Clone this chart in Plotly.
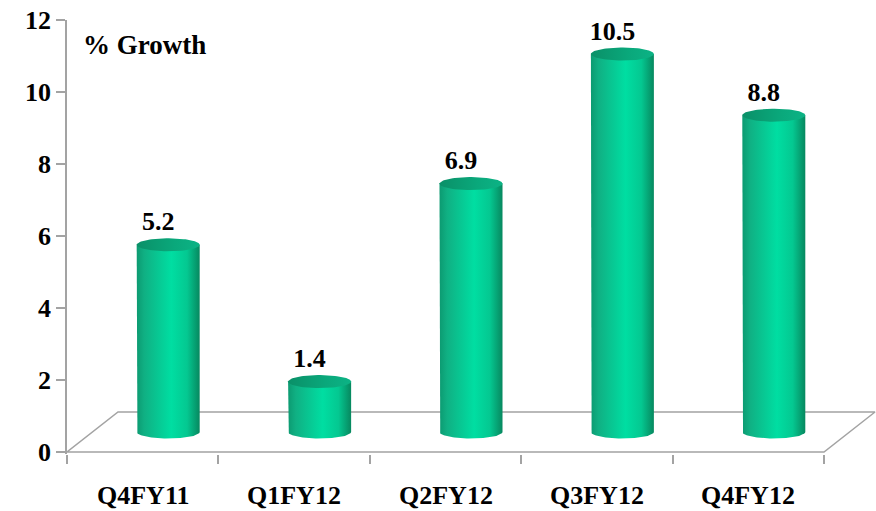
import numpy as np
import plotly.graph_objects as go

# ---- data ----
categories = ["Q4FY11", "Q1FY12", "Q2FY12", "Q3FY12", "Q4FY12"]
growth = [5.2, 1.4, 6.9, 10.5, 8.8]
y_ticks = [0, 2, 4, 6, 8, 10, 12]
title_text = "% Growth"

# ---- layout constants (pixels) ----
W, H = 876, 511
L, T = 67, 20
PX_PER_Y = 36.0
PX_PER_CAT = 151.4
DEPTH_X_PX, DEPTH_Y_PX = 51.0, 40.0
Y_MIN, Y_MAX = -2.0 / PX_PER_Y, 12.0
plot_h = (Y_MAX - Y_MIN) * PX_PER_Y
B = H - T - plot_h
plot_w = W - L
x_max = -0.5 + plot_w / PX_PER_CAT

GRAY = "#a3a3a3"
FONT = "Liberation Serif"

dxh = DEPTH_X_PX / 2 / PX_PER_CAT   # half depth in category units
dyh = DEPTH_Y_PX / 2 / PX_PER_Y     # half depth in y units
a = 31.5 / PX_PER_CAT               # cylinder radius (x units)
b = 6.5 / PX_PER_Y                  # ellipse half-height (y units)

body_scale = [[0.0, "#0c9a71"], [0.12, "#10b083"], [0.55, "#00dea2"],
              [0.8, "#04c891"], [1.0, "#07885f"]]
top_scale = [[0.0, "#0a9068"], [0.6, "#0aa87b"], [1.0, "#0cb385"]]

fig = go.Figure()

# floor outline
n = len(categories)
fx = [-0.5, -0.5 + 2 * dxh, n - 0.5 + 2 * dxh, n - 0.5, -0.5]
fy = [0, 2 * dyh, 2 * dyh, 0, 0]
fig.add_trace(go.Scatter(x=fx, y=fy, mode="lines",
                         line=dict(color=GRAY, width=1.5),
                         hoverinfo="skip"))

th_b = np.linspace(np.pi, 2 * np.pi, 60)
th_t = np.linspace(0, 2 * np.pi, 90)
for i, v in enumerate(growth):
    cx = i + dxh
    base = dyh
    top = v + dyh
    xs = [cx - a] + list(cx + a * np.cos(th_b)) + [cx + a, cx - a]
    ys = [top] + list(base + b * np.sin(th_b)) + [top, top]
    fig.add_trace(go.Scatter(
        x=xs, y=ys, mode="lines", fill="toself",
        line=dict(width=0, color="rgba(0,0,0,0)"),
        fillgradient=dict(type="horizontal", colorscale=body_scale),
        hoverinfo="skip"))
    fig.add_trace(go.Scatter(
        x=list(cx + a * np.cos(th_t)), y=list(top + b * np.sin(th_t)),
        mode="lines", fill="toself",
        line=dict(width=0, color="rgba(0,0,0,0)"),
        fillgradient=dict(type="horizontal", colorscale=top_scale),
        hoverinfo="skip"))

# data labels
fig.add_trace(go.Scatter(
    x=[i + dxh - 10 / PX_PER_CAT for i in range(n)],
    y=[v + dyh + 21 / PX_PER_Y for v in growth],
    mode="text", text=[f"{v:.1f}" for v in growth],
    textfont=dict(family=FONT, size=26, color="black", weight="bold"),
    hoverinfo="skip"))

# category labels
for i, c in enumerate(categories):
    fig.add_annotation(
        text=c, xref="x", yref="paper", x=i, y=-(495 - (T + plot_h)) / plot_h,
        xanchor="center", yanchor="middle", showarrow=False,
        font=dict(family=FONT, size=26, color="black", weight="bold"))

fig.add_annotation(
    text=title_text, xref="paper", yref="paper",
    x=(81 - L) / plot_w, y=(T + plot_h - 45) / plot_h,
    xanchor="left", yanchor="middle", showarrow=False,
    font=dict(family=FONT, size=27, color="black", weight="bold"))

fig.update_layout(
    width=W, height=H,
    margin=dict(l=L, r=0, t=T, b=B, pad=0),
    paper_bgcolor="white", plot_bgcolor="white",
    showlegend=False,
    xaxis=dict(range=[-0.5, x_max], tickmode="array",
               tickvals=[i - 0.5 for i in range(n + 1)],
               ticktext=[""] * (n + 1),
               ticks="outside", ticklen=9, tickwidth=1.5, tickcolor=GRAY,
               showline=False, showgrid=False, zeroline=False),
    yaxis=dict(range=[Y_MIN, Y_MAX], tickmode="array", tickvals=y_ticks,
               ticks="outside", ticklen=9, tickwidth=1.5, tickcolor=GRAY,
               showline=True, linecolor=GRAY, linewidth=1.5,
               showgrid=False, zeroline=False, ticksuffix="\u00a0\u00a0",
               tickfont=dict(family=FONT, size=26, color="black", weight="bold")),
)

fig.write_html("out.html")
